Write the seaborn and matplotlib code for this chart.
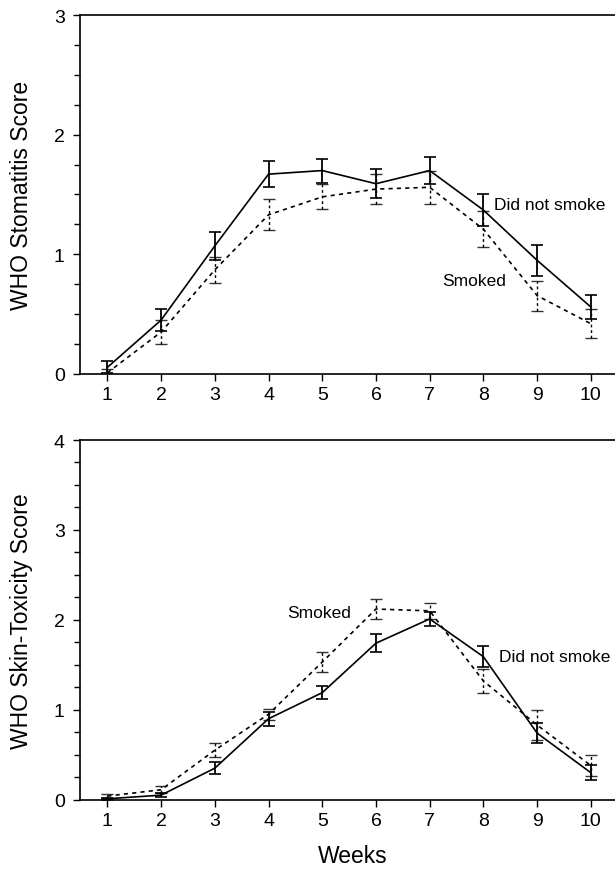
import seaborn as sns
import pandas as pd
import matplotlib.pyplot as plt
from matplotlib.ticker import MultipleLocator

weeks = [1, 2, 3, 4, 5, 6, 7, 8, 9, 10]

# 口腔炎评分 (均值, 误差)
stoma_nosmoke = [0.055, 0.45, 1.07, 1.67, 1.70, 1.59, 1.70, 1.37, 0.95, 0.56]
stoma_nosmoke_err = [0.05, 0.095, 0.12, 0.11, 0.10, 0.12, 0.115, 0.13, 0.13, 0.10]
stoma_smoke = [0.01, 0.35, 0.87, 1.33, 1.48, 1.545, 1.56, 1.21, 0.655, 0.42]
stoma_smoke_err = [0.03, 0.10, 0.11, 0.13, 0.105, 0.125, 0.14, 0.15, 0.125, 0.12]

# 皮肤毒性评分
skin_nosmoke = [0.01, 0.05, 0.35, 0.90, 1.19, 1.74, 2.01, 1.59, 0.74, 0.30]
skin_nosmoke_err = [0.01, 0.02, 0.07, 0.08, 0.07, 0.10, 0.08, 0.12, 0.11, 0.08]
skin_smoke = [0.04, 0.11, 0.55, 0.95, 1.53, 2.12, 2.10, 1.32, 0.83, 0.38]
skin_smoke_err = [0.02, 0.04, 0.08, 0.06, 0.11, 0.11, 0.09, 0.13, 0.17, 0.12]

groups = ["Did not smoke", "Smoked"]

sns.set_style("ticks")
plt.rcParams['font.family'] = ['Liberation Sans', 'DejaVu Sans']
plt.rcParams.update({"text.color": "black", "axes.labelcolor": "black",
                     "xtick.color": "black", "ytick.color": "black"})

fig = plt.figure(figsize=(6.15, 8.7), dpi=100)
ax1 = fig.add_axes([0.130, 0.569, 0.870, 0.4126])
ax2 = fig.add_axes([0.130, 0.0797, 0.870, 0.4134])

def draw(ax, nosmoke, nosmoke_err, smoke, smoke_err, ymax, ylabel):
    df = pd.DataFrame({
        "week": weeks * 2,
        "score": nosmoke + smoke,
        "group": [groups[0]] * 10 + [groups[1]] * 10,
    })
    sns.lineplot(data=df, x="week", y="score", style="group",
                 dashes={groups[0]: "", groups[1]: (2.5, 2.5)},
                 color="black", linewidth=1.2, legend=False, ax=ax)
    ax.errorbar(weeks, nosmoke, yerr=nosmoke_err, fmt="none", ecolor="black",
                elinewidth=1.3, capsize=4, capthick=1.2)
    eb = ax.errorbar(weeks, smoke, yerr=smoke_err, fmt="none", ecolor="black",
                     elinewidth=1.0, capsize=4, capthick=1.0)
    for c in eb[2]:
        c.set_linestyle((0, (2, 2)))
    for c in eb[1]:
        c.set_alpha(0.8)

    ax.set_xlim(0.49, 10.45)
    ax.set_ylim(0, ymax)
    ax.set_xticks(weeks)
    ax.yaxis.set_major_locator(MultipleLocator(1))
    ax.yaxis.set_minor_locator(MultipleLocator(0.25))
    ax.tick_params(axis="both", which="major", labelsize=14, length=5,
                   width=1, color="black", labelcolor="black", direction="out")
    ax.tick_params(axis="y", which="minor", length=4, width=1, color="black")
    ax.tick_params(axis="y", pad=6)
    ax.tick_params(axis="x", pad=4)
    for s in ["left", "top", "bottom"]:
        ax.spines[s].set_visible(True)
        ax.spines[s].set_color("black")
        ax.spines[s].set_linewidth(1.2)
    ax.spines["right"].set_visible(False)
    ax.set_ylabel(ylabel, fontsize=16.5, color="black")
    ax.yaxis.set_label_coords(-0.088, 0.5)
    ax.set_xlabel("")

draw(ax1, stoma_nosmoke, stoma_nosmoke_err, stoma_smoke, stoma_smoke_err,
     3, "WHO Stomatitis Score")
draw(ax2, skin_nosmoke, skin_nosmoke_err, skin_smoke, skin_smoke_err,
     4, "WHO Skin-Toxicity Score")

ax1.text(8.2, 1.42, "Did not smoke", fontsize=12.5, va="center", ha="left")
ax1.text(7.24, 0.78, "Smoked", fontsize=12.5, va="center", ha="left")
ax2.text(4.35, 2.08, "Smoked", fontsize=12.5, va="center", ha="left")
ax2.text(8.29, 1.59, "Did not smoke", fontsize=12.5, va="center", ha="left")

ax2.set_xlabel("Weeks", fontsize=16.5, color="black")
ax2.xaxis.set_label_coords(0.51, -0.124)

fig.savefig("out.png", dpi=100)
